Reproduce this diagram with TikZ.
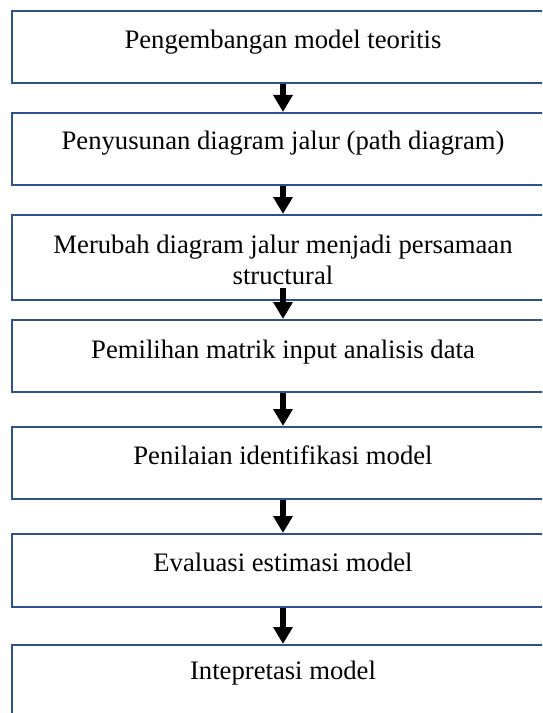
\documentclass[tikz,border=0pt]{standalone}
\usepackage{fontspec}
\setmainfont{Liberation Serif}
\usetikzlibrary{arrows.meta}
\definecolor{boxblue}{RGB}{47,82,143}
\begin{document}
\begin{tikzpicture}[x=0.75pt,y=-0.75pt,
  stepbox/.style={draw=boxblue,line width=1.5pt,fill=white,rectangle,
                  minimum width=406.5pt,inner sep=0pt},
  caption/.style={font=\fontsize{20}{23}\selectfont,align=center,
                  anchor=base,inner sep=0pt},
  flow/.style={line width=4.9pt,-{Triangle[width=14pt,length=12.75pt]}}]
\useasboundingbox (0,0) rectangle (542,713);
\clip (0,0) rectangle (542,713);

% process boxes (the page cuts off their right edges)
\node[stepbox,minimum height=54pt]    (b1) at (283,47)    {};
\node[stepbox,minimum height=54pt]    (b2) at (283,149)   {};
\node[stepbox,minimum height=63.75pt] (b3) at (283,257.5) {};
\node[stepbox,minimum height=54pt]    (b4) at (283,356)   {};
\node[stepbox,minimum height=54pt]    (b5) at (283,463)   {};
\node[stepbox,minimum height=54.75pt] (b6) at (283,570.5) {};
\node[stepbox,minimum height=75pt]    (b7) at (283,695)   {};

% step captions (base = baseline of the last line)
\node[caption] (t1) at (283,49)  {Pengembangan model teoritis};
\node[caption] (t2) at (283,150) {Penyusunan diagram jalur (path diagram)};
\node[caption] (t3) at (283,284) {Merubah diagram jalur menjadi persamaan\\structural};
\node[caption] (t4) at (283,358) {Pemilihan matrik input analisis data};
\node[caption] (t5) at (283,464) {Penilaian identifikasi model};
\node[caption] (t6) at (283,571) {Evaluasi estimasi model};
\node[caption] (t7) at (283,679) {Intepretasi model};

% flow arrows
\coordinate (a3) at (283,288);
\draw[flow] (b1.south) -- (b2.north);
\draw[flow] (b2.south) -- (b3.north);
\draw[flow] (a3) -- (b4.north);
\draw[flow] (b4.south) -- (b5.north);
\draw[flow] (b5.south) -- (b6.north);
\draw[flow] (b6.south) -- (b7.north);
\end{tikzpicture}
\end{document}
